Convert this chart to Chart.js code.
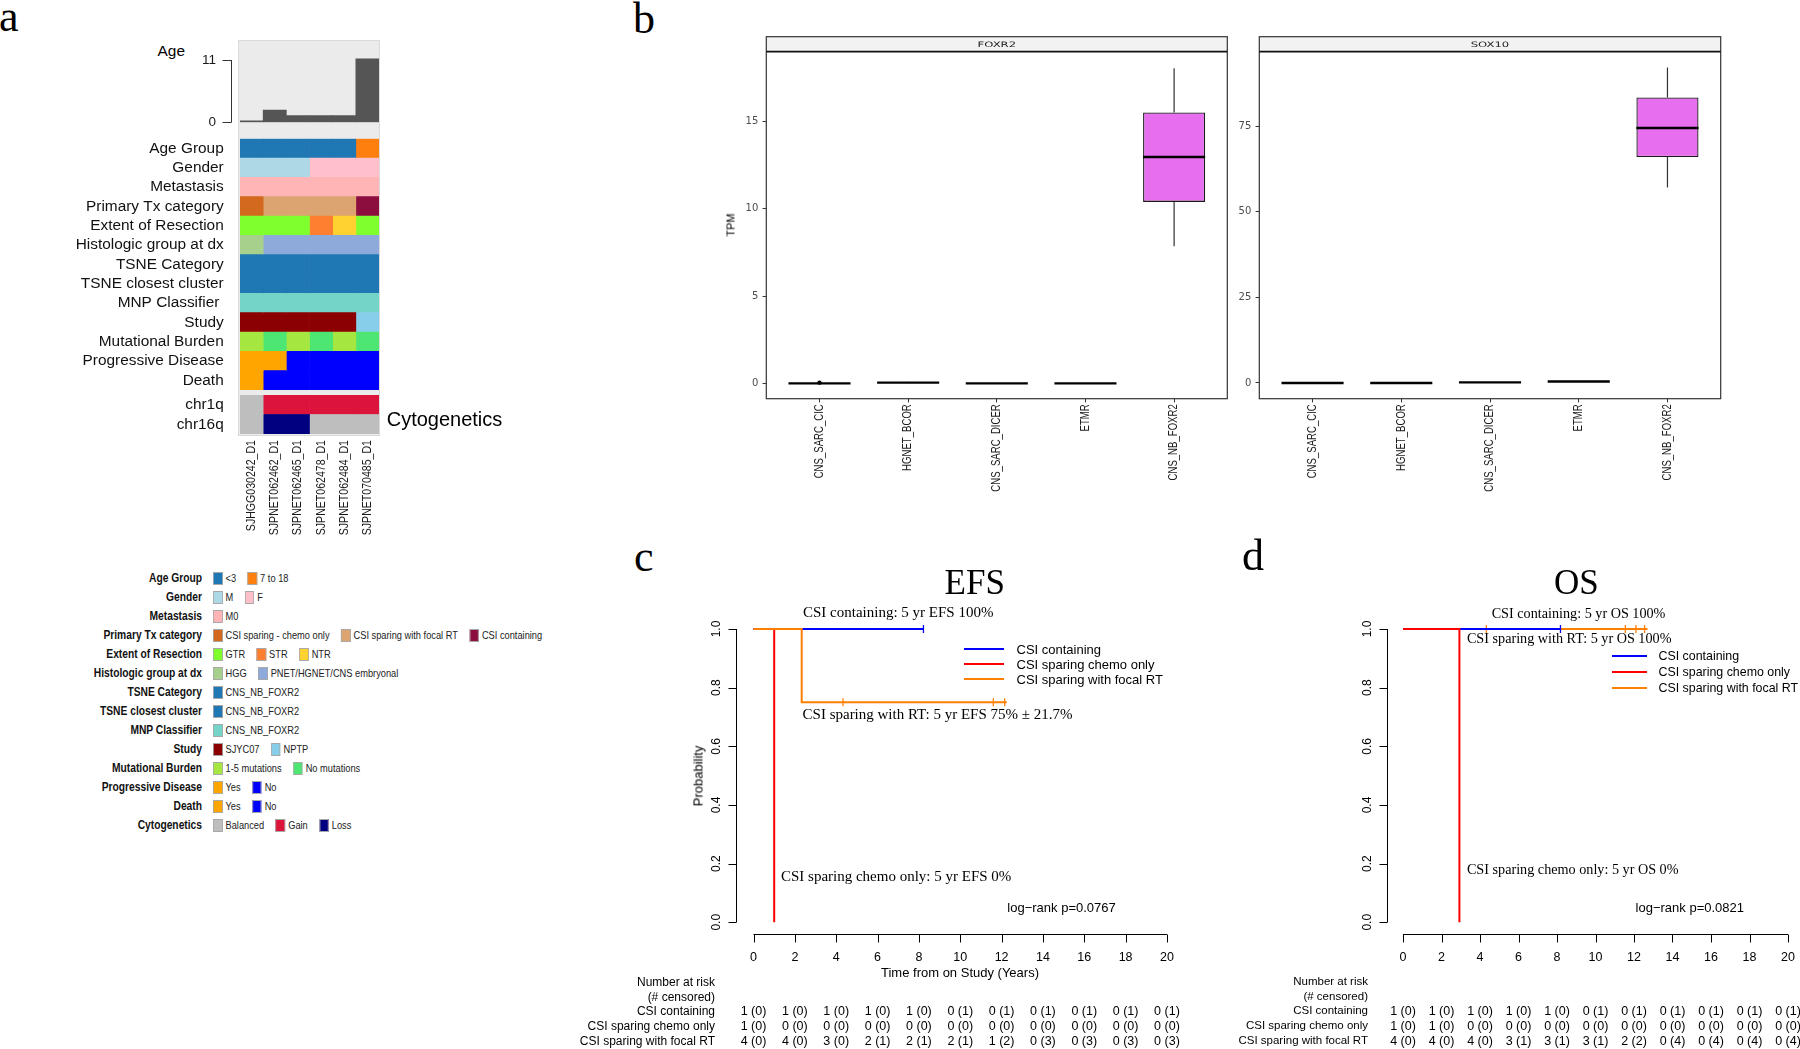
<!DOCTYPE html>
<html>
<head>
<meta charset="utf-8">
<script src="https://cdn.jsdelivr.net/npm/chart.js@4.4.1/dist/chart.umd.min.js"></script>
<style>
  html, body { margin: 0; padding: 0; background: #fff; }
  body { position: relative; width: 1800px; height: 1049px; overflow: hidden; font-family: 'Liberation Sans', Arial, sans-serif; }
  canvas { position: absolute; }
  .lbl { position: absolute; white-space: nowrap; line-height: 1; color: #000; }
  .lgrow { position: absolute; left: 0; height: 16px; width: 900px; }
  .lgtitle { position: absolute; left: 0; width: 202px; top: 0; line-height: 16px; text-align: right; font-weight: bold; font-size: 12.5px; color: #111; white-space: nowrap; transform: scaleX(0.82); transform-origin: right center; }
  .lgitems { position: absolute; left: 213px; top: 0; height: 16px; display: flex; align-items: center; gap: 14px; font-size: 11.3px; color: #222; white-space: nowrap; transform: scaleX(0.82); transform-origin: left center; }
  .lgitem { display: flex; align-items: center; white-space: nowrap; }
  .sw { display: inline-block; width: 9.6px; height: 11px; border: 1px solid #a8a8a8; margin-right: 3.7px; }
  .kmkey { position: absolute; height: 2px; }
  #ageBg { position: absolute; left: 238px; top: 39.5px; width: 142px; height: 396px; background: #ebebeb; box-shadow: inset 0 0 0 1px #dadada; }
</style>
</head>
<body>
<div id="ageBg"></div>
<script>
const SANS = "'Liberation Sans', Arial, sans-serif";
const SERIF = "'Liberation Serif', 'Times New Roman', serif";

// ---- panel a: samples, ages and annotation tracks
const sampleIds = ['SJHGG030242_D1', 'SJPNET062462_D1', 'SJPNET062465_D1', 'SJPNET062478_D1', 'SJPNET062484_D1', 'SJPNET070485_D1'];
const ageYears = [0.08, 2.17, 1.17, 1.17, 1.17, 11.2];

const annoRows = ['Age Group', 'Gender', 'Metastasis', 'Primary Tx category', 'Extent of Resection', 'Histologic group at dx',
  'TSNE Category', 'TSNE closest cluster', 'MNP Classifier ', 'Study', 'Mutational Burden', 'Progressive Disease', 'Death'];

const annoValues = [
  ['<3', '<3', '<3', '<3', '<3', '7 to 18'],
  ['M', 'M', 'M', 'F', 'F', 'F'],
  ['M0', 'M0', 'M0', 'M0', 'M0', 'M0'],
  ['CSI sparing - chemo only', 'CSI sparing with focal RT', 'CSI sparing with focal RT', 'CSI sparing with focal RT', 'CSI sparing with focal RT', 'CSI containing'],
  ['GTR', 'GTR', 'GTR', 'STR', 'NTR', 'GTR'],
  ['HGG', 'PNET/HGNET/CNS embryonal', 'PNET/HGNET/CNS embryonal', 'PNET/HGNET/CNS embryonal', 'PNET/HGNET/CNS embryonal', 'PNET/HGNET/CNS embryonal'],
  ['CNS_NB_FOXR2', 'CNS_NB_FOXR2', 'CNS_NB_FOXR2', 'CNS_NB_FOXR2', 'CNS_NB_FOXR2', 'CNS_NB_FOXR2'],
  ['CNS_NB_FOXR2', 'CNS_NB_FOXR2', 'CNS_NB_FOXR2', 'CNS_NB_FOXR2', 'CNS_NB_FOXR2', 'CNS_NB_FOXR2'],
  ['CNS_NB_FOXR2', 'CNS_NB_FOXR2', 'CNS_NB_FOXR2', 'CNS_NB_FOXR2', 'CNS_NB_FOXR2', 'CNS_NB_FOXR2'],
  ['SJYC07', 'SJYC07', 'SJYC07', 'SJYC07', 'SJYC07', 'NPTP'],
  ['1-5 mutations', 'No mutations', '1-5 mutations', 'No mutations', '1-5 mutations', 'No mutations'],
  ['Yes', 'Yes', 'No', 'No', 'No', 'No'],
  ['Yes', 'No', 'No', 'No', 'No', 'No'],
];

const annoPalettes = [
  [['<3', '#1f77b4'], ['7 to 18', '#ff7f0e']],
  [['M', '#add8e6'], ['F', '#ffc0cb']],
  [['M0', '#ffb5b5']],
  [['CSI sparing - chemo only', '#d2691e'], ['CSI sparing with focal RT', '#dba470'], ['CSI containing', '#8c0e3e']],
  [['GTR', '#7fff2e'], ['STR', '#ff7f30'], ['NTR', '#ffd232']],
  [['HGG', '#a8d08d'], ['PNET/HGNET/CNS embryonal', '#8eaadb']],
  [['CNS_NB_FOXR2', '#1f77b4']],
  [['CNS_NB_FOXR2', '#1f77b4']],
  [['CNS_NB_FOXR2', '#74d4c7']],
  [['SJYC07', '#8b0000'], ['NPTP', '#87ceeb']],
  [['1-5 mutations', '#a6e640'], ['No mutations', '#4ee673']],
  [['Yes', '#ffa500'], ['No', '#0000ff']],
  [['Yes', '#ffa500'], ['No', '#0000ff']],
];

const cytoRows = ['chr1q', 'chr16q'];
const cytoValues = [
  ['Balanced', 'Gain', 'Gain', 'Gain', 'Gain', 'Gain'],
  ['Balanced', 'Loss', 'Loss', 'Balanced', 'Balanced', 'Balanced'],
];
const cytoPalette = [['Balanced', '#bebebe'], ['Gain', '#dc143c'], ['Loss', '#000080']];

const legendTitles = ['Age Group', 'Gender', 'Metastasis', 'Primary Tx category', 'Extent of Resection', 'Histologic group at dx',
  'TSNE Category', 'TSNE closest cluster', 'MNP Classifier', 'Study', 'Mutational Burden', 'Progressive Disease', 'Death', 'Cytogenetics'];

// ---- panel b: expression boxplots, [min, q1, median, q3, max]
const boxGroups = ['CNS_SARC_CIC', 'HGNET_BCOR', 'CNS_SARC_DICER', 'ETMR', 'CNS_NB_FOXR2'];
const foxr2Stats = [[0, 0, 0, 0, 0.01], [0, 0.02, 0.04, 0.06, 0.08], [0, 0, 0, 0, 0], [0, 0, 0, 0, 0], [7.86, 10.40, 12.97, 15.53, 18.06]];
const foxr2Outliers = [[0.04], [], [], [], []];
const sox10Stats = [[0, 0, 0, 0, 0], [0, 0, 0, 0, 0], [0.05, 0.1, 0.15, 0.2, 0.25], [0.3, 0.35, 0.4, 0.45, 0.5], [57.1, 66.0, 74.5, 83.4, 92.2]];
const sox10Outliers = [[], [], [], [], []];

// ---- panels c/d: Kaplan-Meier steps [time, survival], censor marks [time, survival]
const efsContainingSteps = [[0, 1], [8.22, 1]];
const efsContainingCensor = [[8.22, 1]];
const efsChemoSteps = [[0, 1], [1.0, 0]];
const efsChemoCensor = [];
const efsFocalSteps = [[0, 1], [2.33, 0.75], [12.25, 0.75]];
const efsFocalCensor = [[4.33, 0.75], [11.6, 0.75], [12.15, 0.75]];

const osContainingSteps = [[0, 1], [8.18, 1]];
const osContainingCensor = [[8.18, 1]];
const osChemoSteps = [[0, 1], [2.93, 0]];
const osChemoCensor = [];
const osFocalSteps = [[0, 1], [12.7, 1]];
const osFocalCensor = [[4.33, 1], [11.55, 1], [12.1, 1], [12.55, 1]];

const riskTimes = [0, 2, 4, 6, 8, 10, 12, 14, 16, 18, 20];
const efsAtRiskContaining = [1, 1, 1, 1, 1, 0, 0, 0, 0, 0, 0];
const efsCensContaining = [0, 0, 0, 0, 0, 1, 1, 1, 1, 1, 1];
const efsAtRiskChemo = [1, 0, 0, 0, 0, 0, 0, 0, 0, 0, 0];
const efsCensChemo = [0, 0, 0, 0, 0, 0, 0, 0, 0, 0, 0];
const efsAtRiskFocal = [4, 4, 3, 2, 2, 2, 1, 0, 0, 0, 0];
const efsCensFocal = [0, 0, 0, 1, 1, 1, 2, 3, 3, 3, 3];

const osAtRiskContaining = [1, 1, 1, 1, 1, 0, 0, 0, 0, 0, 0];
const osCensContaining = [0, 0, 0, 0, 0, 1, 1, 1, 1, 1, 1];
const osAtRiskChemo = [1, 1, 0, 0, 0, 0, 0, 0, 0, 0, 0];
const osCensChemo = [0, 0, 0, 0, 0, 0, 0, 0, 0, 0, 0];
const osAtRiskFocal = [4, 4, 4, 3, 3, 3, 2, 0, 0, 0, 0];
const osCensFocal = [0, 0, 0, 1, 1, 1, 2, 4, 4, 4, 4];

const kmBlue = '#0000ff';
const kmRed = '#ff0000';
const kmOrange = '#ff7f00';
const kmSeriesNames = ['CSI containing', 'CSI sparing chemo only', 'CSI sparing with focal RT'];

Chart.defaults.animation = false;
Chart.defaults.font.family = SANS;
Chart.defaults.color = '#000';
Chart.defaults.plugins.legend.display = false;
Chart.defaults.plugins.tooltip.enabled = false;

function mkCanvas(left, top, w, h) {
  const c = document.createElement('canvas');
  c.width = w; c.height = h;
  c.style.left = left + 'px'; c.style.top = top + 'px';
  c.style.width = w + 'px'; c.style.height = h + 'px';
  document.body.appendChild(c);
  return c;
}

function addText(str, x, y, o = {}) {
  const d = document.createElement('div');
  d.className = 'lbl';
  d.textContent = str;
  d.style.left = x + 'px';
  d.style.top = y + 'px';
  d.style.fontSize = (o.size || 12) + 'px';
  if (o.family) d.style.fontFamily = o.family;
  if (o.weight) d.style.fontWeight = o.weight;
  if (o.color) d.style.color = o.color;
  const tx = o.align === 'right' ? '-100%' : o.align === 'center' ? '-50%' : '0';
  d.style.transform = `translate(${tx},-50%)` + (o.rotate ? ` rotate(${o.rotate}deg)` : '');
  document.body.appendChild(d);
  return d;
}

function colorFor(palette, v) {
  const hit = palette.find(p => p[0] === v);
  return hit ? hit[1] : '#ffffff';
}

// R-style axes: spine only between first and last tick
function makeRAxes(cfg) {
  return {
    id: 'rAxes',
    afterDraw(chart) {
      const { ctx, chartArea } = chart;
      ctx.save();
      ctx.lineWidth = 1;
      ctx.strokeStyle = cfg.color || '#000';
      if (cfg.x) {
        const s = chart.scales.x, o = cfg.x;
        const y0 = Math.round(chartArea.bottom) + 0.5;
        const vals = s.ticks.map(t => t.value);
        ctx.beginPath();
        ctx.moveTo(s.getPixelForValue(o.from), y0);
        ctx.lineTo(s.getPixelForValue(o.to), y0);
        vals.forEach(v => {
          const px = Math.round(s.getPixelForValue(v)) + 0.5;
          ctx.moveTo(px, y0); ctx.lineTo(px, y0 + o.tickLen);
        });
        ctx.stroke();
      }
      if (cfg.y) {
        const s = chart.scales.y, o = cfg.y;
        const x0 = Math.round(chartArea.left - (o.offset || 0)) - 0.5;
        const vals = o.ticks || s.ticks.map(t => t.value);
        ctx.beginPath();
        ctx.moveTo(x0, s.getPixelForValue(o.from));
        ctx.lineTo(x0, s.getPixelForValue(o.to));
        vals.forEach(v => {
          const py = Math.round(s.getPixelForValue(v)) + 0.5;
          ctx.moveTo(x0, py); ctx.lineTo(x0 - o.tickLen, py);
        });
        ctx.stroke();
        ctx.font = o.font;
        ctx.fillStyle = o.labelColor || '#000';
        vals.forEach(v => {
          const py = s.getPixelForValue(v);
          const label = o.decimals != null ? v.toFixed(o.decimals) : String(v);
          if (o.rotate) {
            ctx.save();
            ctx.translate(x0 - o.labelGap, py);
            ctx.rotate(-Math.PI / 2);
            ctx.textAlign = 'center'; ctx.textBaseline = 'middle';
            ctx.fillText(label, 0, 0);
            ctx.restore();
          } else {
            ctx.textAlign = 'right'; ctx.textBaseline = 'middle';
            ctx.fillText(label, x0 - o.labelGap, py);
          }
        });
      }
      ctx.restore();
    }
  };
}

// vertical category labels in a narrow face (Arial Narrow look)
function makeRotLabels(cfg) {
  return {
    id: 'rotLabels',
    afterDraw(chart) {
      const { ctx, chartArea } = chart;
      const s = chart.scales[cfg.axis];
      ctx.save();
      ctx.font = cfg.font;
      ctx.fillStyle = cfg.color;
      ctx.textAlign = 'right';
      ctx.textBaseline = 'middle';
      cfg.labels.forEach((lab, i) => {
        ctx.save();
        ctx.translate(s.getPixelForValue(i), chartArea.bottom + cfg.gap);
        ctx.rotate(-Math.PI / 2);
        ctx.scale(cfg.squeeze, 1);
        ctx.fillText(lab, 0, 0);
        ctx.restore();
      });
      ctx.restore();
    }
  };
}

// ---------------- panel a
addText('a', -1, 17, { size: 44, family: SERIF });
addText('Age', 185, 51, { size: 15.4, align: 'right' });

new Chart(mkCanvas(150, 30, 240, 100), {
  type: 'bar',
  data: { labels: sampleIds, datasets: [{ data: ageYears, backgroundColor: '#555555', barPercentage: 1, categoryPercentage: 1, minBarLength: 1.5 }] },
  plugins: [makeRAxes({ color: '#333', y: { from: 0, to: 11, ticks: [0, 11], offset: 7.7, tickLen: 9, labelGap: 15.6, font: "13.5px 'Liberation Sans'", labelColor: '#1a1a1a' } })],
  options: {
    responsive: false, devicePixelRatio: 1,
    layout: { padding: { left: 90, top: 10, right: 11, bottom: 7.7 } },
    scales: {
      x: { display: false },
      y: { display: false, min: 0, max: 14.54 }
    }
  }
});

function heatChart(left, top, w, h, rows, values, palettes, pad, withSamples) {
  const datasets = sampleIds.map((id, col) => ({
    label: id,
    data: rows.map(() => 1),
    backgroundColor: values.map((row, ri) => colorFor(palettes[ri], row[col])),
    borderWidth: 0, barPercentage: 1, categoryPercentage: 1
  }));
  const scales = {
    x: { display: false, stacked: true, min: 0, max: 6 },
    y: {
      stacked: true, grid: { display: false }, border: { display: false },
      ticks: { padding: 8.3, font: { size: 15.4 }, color: '#111', autoSkip: false },
      afterFit: s => { s.width = 240; s.paddingTop = 0; s.paddingBottom = 0; }
    }
  };
  const plugins = [];
  if (withSamples) {
    scales.x2 = {
      type: 'category', position: 'bottom', labels: sampleIds, offset: true,
      grid: { display: false }, border: { display: false },
      ticks: { display: false },
      afterFit: s => { s.height = 100; s.paddingLeft = 0; s.paddingRight = 0; }
    };
    plugins.push(makeRotLabels({ axis: 'x2', labels: sampleIds, font: "12.6px 'Liberation Sans'", color: '#1a1a1a', gap: 6, squeeze: 0.84 }));
  }
  return new Chart(mkCanvas(left, top, w, h), {
    type: 'bar',
    data: { labels: rows, datasets },
    plugins,
    options: {
      indexAxis: 'y', responsive: false, devicePixelRatio: 1,
      layout: { padding: pad },
      scales
    }
  });
}

heatChart(0, 130, 390, 270, annoRows, annoValues, annoPalettes, { left: 0, top: 8.7, right: 11, bottom: 10 }, false);
heatChart(0, 385, 390, 160, cytoRows, cytoValues, [cytoPalette, cytoPalette], { left: 0, top: 10, right: 11, bottom: 11 }, true);
addText('Cytogenetics', 386.7, 419, { size: 20 });

// legend of panel a
const legendPalettes = annoPalettes.concat([cytoPalette]);
legendTitles.forEach((title, i) => {
  const row = document.createElement('div');
  row.className = 'lgrow';
  row.style.top = (578.3 + i * 19.0 - 8) + 'px';
  const t = document.createElement('div');
  t.className = 'lgtitle';
  t.textContent = title;
  row.appendChild(t);
  const items = document.createElement('div');
  items.className = 'lgitems';
  legendPalettes[i].forEach(([name, color]) => {
    const it = document.createElement('span');
    it.className = 'lgitem';
    const sw = document.createElement('span');
    sw.className = 'sw';
    sw.style.background = color;
    it.appendChild(sw);
    it.appendChild(document.createTextNode(name));
    items.appendChild(it);
  });
  row.appendChild(items);
  document.body.appendChild(row);
});

// ---------------- panel b
addText('b', 633, 19, { size: 44, family: SERIF });

function makeBoxExtras(stats, outliers, stripLabel) {
  return {
    id: 'boxExtras',
    beforeDraw(chart) {
      const { ctx, chartArea: a } = chart;
      ctx.save();
      ctx.fillStyle = '#f2f2f2';
      ctx.fillRect(a.left, a.top - 15, a.right - a.left, 15);
      ctx.fillStyle = '#1a1a1a';
      ctx.font = "7.5px 'DejaVu Sans'";
      ctx.textAlign = 'center'; ctx.textBaseline = 'middle';
      ctx.translate((a.left + a.right) / 2, a.top - 7);
      ctx.scale(1.55, 1);
      ctx.fillText(stripLabel, 0, 0);
      ctx.restore();
    },
    afterDatasetsDraw(chart) {
      const { ctx } = chart;
      const ys = chart.scales.y;
      const meta = chart.getDatasetMeta(0);
      ctx.save();
      stats.forEach((s, i) => {
        const bar = meta.data[i];
        const cx = bar.x, half = bar.width / 2;
        ctx.strokeStyle = '#333';
        ctx.lineWidth = 1.2;
        ctx.beginPath();
        ctx.moveTo(cx, ys.getPixelForValue(s[0])); ctx.lineTo(cx, ys.getPixelForValue(s[1]));
        ctx.moveTo(cx, ys.getPixelForValue(s[3])); ctx.lineTo(cx, ys.getPixelForValue(s[4]));
        ctx.stroke();
        ctx.strokeStyle = '#000';
        ctx.lineWidth = 2.4;
        ctx.beginPath();
        const my = ys.getPixelForValue(s[2]);
        ctx.moveTo(cx - half, my); ctx.lineTo(cx + half, my);
        ctx.stroke();
        ctx.fillStyle = '#000';
        outliers[i].forEach(v => {
          ctx.beginPath();
          ctx.arc(cx, ys.getPixelForValue(v), 2.2, 0, Math.PI * 2);
          ctx.fill();
        });
      });
      ctx.restore();
    },
    afterDraw(chart) {
      const { ctx, chartArea: a } = chart;
      ctx.save();
      ctx.strokeStyle = '#333';
      ctx.lineWidth = 1.2;
      ctx.strokeRect(a.left, a.top - 15, a.right - a.left, a.bottom - a.top + 15);
      ctx.strokeStyle = '#111';
      ctx.lineWidth = 1.8;
      ctx.beginPath();
      ctx.moveTo(a.left, a.top); ctx.lineTo(a.right, a.top);
      ctx.stroke();
      ctx.restore();
    }
  };
}

function boxChart(left, stats, outliers, stripLabel, yMin, yMax, yStep, padLeft, padRight) {
  return new Chart(mkCanvas(left, 20, 540, 520), {
    type: 'bar',
    data: {
      datasets: [{
        data: stats.map((s, i) => ({ x: i, y: [s[1], s[3]] })),
        backgroundColor: '#e86ef0', borderColor: '#1a1a1a', borderWidth: 1.3, borderSkipped: false,
        barPercentage: 0.7, categoryPercentage: 1
      }]
    },
    plugins: [makeBoxExtras(stats, outliers, stripLabel),
      makeRotLabels({ axis: 'x', labels: boxGroups, font: "12px 'Liberation Sans'", color: '#1a1a1a', gap: 5.5, squeeze: 0.8 })],
    options: {
      responsive: false, devicePixelRatio: 1,
      layout: { padding: { left: padLeft, right: padRight, top: 31.7, bottom: 21.3 } },
      scales: {
        x: {
          type: 'linear', min: -0.6, max: 4.6, offset: false,
          grid: { display: true, offset: false, drawOnChartArea: false, tickLength: 3.7, color: '#333' },
          border: { display: false },
          ticks: { stepSize: 1, includeBounds: false, display: false },
          afterFit: s => { s.height = 120; s.paddingLeft = 0; s.paddingRight = 0; }
        },
        y: {
          min: yMin, max: yMax,
          grid: { display: true, drawOnChartArea: false, tickLength: 3.7, color: '#333' },
          border: { display: false },
          ticks: { stepSize: yStep, includeBounds: false, padding: 4.3, font: { family: "'DejaVu Sans'", size: 10 }, color: '#4d4d4d' },
          afterFit: s => { s.width = 40; s.paddingTop = 0; s.paddingBottom = 0; }
        }
      }
    }
  });
}

boxChart(700, foxr2Stats, foxr2Outliers, 'FOXR2', -0.88, 19.01, 5, 26.3, 12.7);
boxChart(1195, sox10Stats, sox10Outliers, 'SOX10', -4.61, 96.8, 25, 24.3, 14.3);
addText('TPM', 731, 225, { size: 11, align: 'center', rotate: -90 });

// ---------------- panels c and d
function kmChart(k) {
  const canvas = mkCanvas(k.left, k.top, k.width, k.height);
  const datasets = [];
  k.curves.forEach(c => {
    datasets.push({
      data: c.steps.map(p => ({ x: p[0], y: p[1] })),
      borderColor: c.color, borderWidth: 2, stepped: 'before', pointRadius: 0, fill: false, order: c.layer * 2 + 1
    });
    datasets.push({
      data: c.censor.map(p => ({ x: p[0], y: p[1] })),
      showLine: false, borderColor: c.color, pointBorderColor: c.color, pointBackgroundColor: c.color,
      pointStyle: 'line', rotation: 90, pointRadius: 4, pointBorderWidth: 1.3, order: c.layer * 2
    });
  });
  const chart = new Chart(canvas, {
    type: 'line',
    data: { datasets },
    plugins: [makeRAxes({ color: '#000', x: { from: 0, to: 20, tickLen: 8 }, y: { from: 0, to: 1, tickLen: 8, labelGap: 20, rotate: true, decimals: 1, font: "12px 'Liberation Sans'" } })],
    options: {
      responsive: false, devicePixelRatio: 1,
      layout: { padding: { left: k.padLeft, right: k.padRight, top: 27.3, bottom: k.height - 344 - 30 } },
      scales: {
        x: {
          type: 'linear', min: -0.8, max: 20.8,
          grid: { display: false }, border: { display: false },
          ticks: { stepSize: 2, includeBounds: false, autoSkip: false, maxRotation: 0, padding: 8, font: { size: k.tickSize }, color: '#000' },
          afterFit: s => { s.height = 30; s.paddingLeft = 0; s.paddingRight = 0; }
        },
        y: {
          type: 'linear', min: -0.04, max: 1.04,
          grid: { display: false }, border: { display: false },
          ticks: { display: false, stepSize: 0.2, includeBounds: false },
          afterFit: s => { s.width = 40; s.paddingTop = 0; s.paddingBottom = 0; }
        }
      }
    }
  });

  const xs = chart.scales.x, ys = chart.scales.y;
  addText(k.panel, k.panelX, k.panelY, { size: 44, family: SERIF });
  addText(k.title, k.left + xs.getPixelForValue(k.titleAt), 582, { size: 35, family: SERIF, align: 'center' });
  k.notes.forEach(n => {
    const sans = n[4] === 'sans';
    addText(n[0], k.left + xs.getPixelForValue(n[1]), k.top + ys.getPixelForValue(n[2]),
      { size: sans ? 13 : k.noteSize, family: sans ? null : SERIF, align: n[3] });
  });
  // legend
  kmSeriesNames.forEach((name, i) => {
    const y = k.keyY + i * k.keyStep;
    const line = document.createElement('div');
    line.className = 'kmkey';
    line.style.left = k.keyX + 'px';
    line.style.top = (y - 1) + 'px';
    line.style.width = k.keyLen + 'px';
    line.style.background = [kmBlue, kmRed, kmOrange][i];
    document.body.appendChild(line);
    addText(name, k.keyX + k.keyLen + k.keyGap, y, { size: k.keySize });
  });
  // number at risk table
  addText('Number at risk', k.riskRight, 981.5, { size: k.riskSize, align: 'right' });
  addText('(# censored)', k.riskRight, 997, { size: k.riskSize, align: 'right' });
  k.risk.forEach((r, ri) => {
    const y = 1011.4 + ri * 14.9;
    addText(kmSeriesNames[ri], k.riskRight, y, { size: k.riskSize, align: 'right' });
    riskTimes.forEach((t, ti) => {
      addText(`${r[0][ti]} (${r[1][ti]})`, k.left + xs.getPixelForValue(t), y, { size: 12.5, align: 'center' });
    });
  });
  return chart;
}

kmChart({
  left: 630, top: 590, width: 570, height: 459, padLeft: 67, padRight: 16.5, tickSize: 12.5,
  panel: 'c', panelX: 634, panelY: 557, title: 'EFS', titleAt: 10.7, noteSize: 15,
  curves: [
    { steps: efsContainingSteps, censor: efsContainingCensor, color: kmBlue, layer: 2 },
    { steps: efsChemoSteps, censor: efsChemoCensor, color: kmRed, layer: 1 },
    { steps: efsFocalSteps, censor: efsFocalCensor, color: kmOrange, layer: 0 }
  ],
  notes: [
    ['CSI containing: 5 yr EFS 100%', 7.0, 1.059, 'center'],
    ['CSI sparing with RT: 5 yr EFS 75% \u00b1 21.7%', 8.9, 0.711, 'center'],
    ['CSI sparing chemo only: 5 yr EFS 0%', 6.9, 0.158, 'center'],
    ['log\u2212rank p=0.0767', 14.9, 0.052, 'center', 'sans']
  ],
  keyX: 964, keyY: 649, keyStep: 15.2, keyLen: 40, keyGap: 12.5, keySize: 13,
  riskRight: 715, riskSize: 12,
  risk: [[efsAtRiskContaining, efsCensContaining], [efsAtRiskChemo, efsCensChemo], [efsAtRiskFocal, efsCensFocal]]
});
addText('Time from on Study (Years)', 960, 972.4, { size: 13, align: 'center' });
addText('Probability', 698, 776, { size: 13, align: 'center', rotate: -90 });

kmChart({
  left: 1240, top: 590, width: 600, height: 459, padLeft: 107.6, padRight: 36.6, tickSize: 12.5,
  panel: 'd', panelX: 1242, panelY: 556, title: 'OS', titleAt: 9.0, noteSize: 14.2,
  curves: [
    { steps: osContainingSteps, censor: osContainingCensor, color: kmBlue, layer: 1 },
    { steps: osChemoSteps, censor: osChemoCensor, color: kmRed, layer: 0 },
    { steps: osFocalSteps, censor: osFocalCensor, color: kmOrange, layer: 2 }
  ],
  notes: [
    ['CSI containing: 5 yr OS 100%', 9.12, 1.056, 'center'],
    ['CSI sparing with RT: 5 yr OS 100%', 3.32, 0.970, 'left'],
    ['CSI sparing chemo only: 5 yr OS 0%', 3.32, 0.182, 'left'],
    ['log\u2212rank p=0.0821', 14.9, 0.052, 'center', 'sans']
  ],
  keyX: 1612, keyY: 656, keyStep: 15.8, keyLen: 35, keyGap: 11.5, keySize: 12.4,
  riskRight: 1368, riskSize: 11.5,
  risk: [[osAtRiskContaining, osCensContaining], [osAtRiskChemo, osCensChemo], [osAtRiskFocal, osCensFocal]]
});
</script>
</body>
</html>
